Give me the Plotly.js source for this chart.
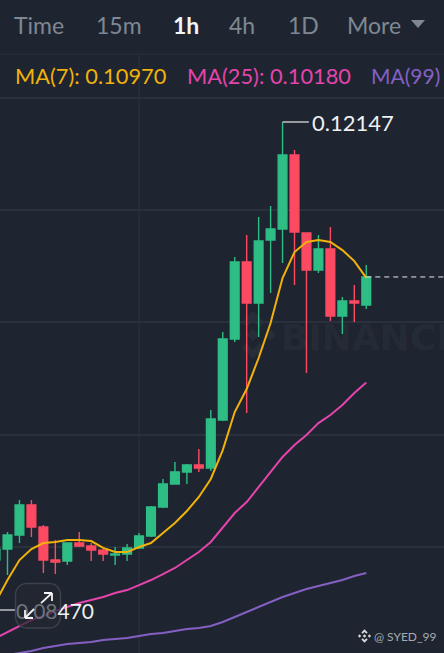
<!DOCTYPE html>
<html>
<head>
<meta charset="utf-8">
<script src="https://cdn.plot.ly/plotly-3.0.1.min.js"></script>
<style>html,body{margin:0;padding:0;background:#1e2530;overflow:hidden}#c{width:444px;height:653px}</style>
</head>
<body>
<div id="c"></div>
<script>
const candleIndex = [-1,0,1,2,3,4,5,6,7,8,9,10,11,12,13,14,15,16,17,18,19,20,21,22,23,24,25,26,27,28,29,30];
const open  = [.08840,.08923,.09029,.09255,.09089,.08840,.08832,.08968,.08946,.08915,.08878,.08885,.08931,.09021,.09240,.09414,.09504,.09557,.09535,.09897,.10509,.11090,.10780,.11256,.11339,.11898,.11309,.11029,.11188,.10682,.10795,.10765];
const high  = [.08938,.09051,.09293,.09293,.09104,.08991,.08975,.09051,.08968,.08923,.08938,.08961,.09044,.09248,.09452,.09580,.09565,.09678,.09972,.10561,.11128,.11294,.11430,.11513,.12147,.11935,.11309,.11294,.11354,.10826,.10916,.11067];
const low   = [.08817,.08727,.08968,.09014,.08742,.08734,.08802,.08938,.08832,.08832,.08802,.08832,.08923,.09014,.09233,.09414,.09414,.09504,.09512,.09889,.10486,.09950,.10524,.10856,.11082,.10916,.10252,.11007,.10644,.10546,.10637,.10735];
const close = [.08923,.09029,.09255,.09089,.08840,.08825,.08968,.08946,.08915,.08885,.08885,.08931,.09021,.09240,.09414,.09504,.09557,.09535,.09905,.10509,.11090,.10780,.11248,.11339,.11898,.11316,.11029,.11188,.10682,.10795,.10780,.10977];
const ma7  = [.08523,.08689,.08840,.08923,.08968,.08976,.08991,.08991,.08983,.08931,.08900,.08900,.08938,.08968,.09044,.09119,.09210,.09316,.09452,.09670,.09957,.10131,.10365,.10629,.10969,.11165,.11241,.11256,.11241,.11180,.11097,.10970];
const ma25 = [.08251,.08296,.08342,.08387,.08417,.08455,.08485,.08515,.08538,.08561,.08591,.08613,.08651,.08689,.08734,.08780,.08840,.08900,.08976,.09082,.09195,.09278,.09391,.09497,.09618,.09708,.09784,.09874,.09935,.10010,.10101,.10180];
const ma99 = [.08108,.08123,.08138,.08153,.08176,.08191,.08206,.08214,.08221,.08236,.08244,.08251,.08266,.08281,.08289,.08304,.08319,.08327,.08342,.08372,.08410,.08447,.08485,.08523,.08561,.08591,.08621,.08644,.08666,.08689,.08719,.08742];
const gridPrices = [.12328,.11482,.10637,.09784,.08938];
const intervals = ["Time","15m","1h","4h","1D","More"];
const legendTexts = ["MA(7): 0.10970","MA(25): 0.10180","MA(99)"];
const highLabel = "0.12147";
const lastPrice = .10977;

const W = 444, H = 653;
const px = v => v / W, py = v => 1 - v / H;
const GREY = "#7f8892", FONT = "Lato, 'Open Sans', sans-serif";
const green = "#2ebd85", red = "#fd4a63";
const line = (name, ys, color) => ({type:"scatter",mode:"lines",x:candleIndex,y:ys,name,
  line:{color,width:2},hoverinfo:"skip"});

const traces = [
  {type:"candlestick",x:candleIndex,open,high,low,close,whiskerwidth:0,
   increasing:{line:{color:green,width:1.4},fillcolor:green},
   decreasing:{line:{color:red,width:1.4},fillcolor:red},hoverinfo:"skip"},
  line("MA(99)",ma99,"#8560c4"),
  line("MA(25)",ma25,"#e544ac"),
  line("MA(7)",ma7,"#f0b20b")
];

const label = (text,x,y,size,color,extra) => Object.assign({text,x:px(x),y:py(y),xref:"paper",yref:"paper",
  xanchor:"left",yanchor:"middle",showarrow:false,borderpad:0,
  font:{family:FONT,size,color}},extra||{});
const stroke = (x,y,ax,ay) => ({text:" ",x:px(x),y:py(y),xref:"paper",yref:"paper",axref:"pixel",ayref:"pixel",ax,ay,
  font:{size:1},width:1,height:1,borderpad:0,
  showarrow:true,arrowhead:0,arrowwidth:1.8,arrowcolor:"#f2f3f5",standoff:0,startstandoff:0});

const annotations = [
  label(intervals[0],13,25,23,GREY),
  label(intervals[1],95,25,23,GREY),
  label("<b>"+intervals[2]+"</b>",172,25,23,"#f2f4f6"),
  label(intervals[3],228,25,23,GREY),
  label(intervals[4],287,25,23,GREY),
  label(intervals[5],346,25,23,GREY),
  label(legendTexts[0],14,75,21.8,"#f0b20b"),
  label(legendTexts[1],186,75,21.8,"#e544ac"),
  label(legendTexts[2],370,75,21,"#8560c4"),
  label(highLabel,311,122,22,"#eef0f2"),
  label('<span style="color:#6d727b">0.08</span>470',15,610,21,"#eef0f2"),
  label("<b>BINANCE</b>",280,337,36,"rgba(255,255,255,0.045)",{font:{family:"'DejaVu Sans'",size:36,color:"rgba(255,255,255,0.045)"}}),
  label("@ SYED_99",373,636,12,"#a6abb2"),
  stroke(52,593,-12,11),stroke(52,593,-9,0),stroke(52,593,0,9),
  stroke(25,618,10,-10),stroke(25,618,0,-9),stroke(25,618,9,0)
];

const pathShape = (path,fill,lineColor,lw,layer) => ({type:"path",xref:"paper",yref:"paper",path,layer:layer||"above",
  fillcolor:fill,line:{color:lineColor||"rgba(0,0,0,0)",width:lw||0}});
const P = pts => pts.map((p,i)=>(i?"L":"M")+px(p[0]).toFixed(5)+" "+py(p[1]).toFixed(5)).join(" ");
const diamond = (cx,cy,r) => P([[cx,cy-r],[cx+r,cy],[cx,cy+r],[cx-r,cy]])+" Z";
function binanceLogo(cx,cy,R){
  const chev = s => P([[0,-1],[.47,-.53],[.27,-.33],[0,-.6],[-.27,-.33],[-.47,-.53]].map(p=>[cx+p[0]*R,cy+s*p[1]*R]))+" Z";
  return [diamond(cx,cy,.26*R),diamond(cx-.72*R,cy,.24*R),diamond(cx+.72*R,cy,.24*R),chev(1),chev(-1)].join(" ");
}
function roundRect(x0,y0,x1,y1,r){
  const pts=[]; const n=6;
  const corner=(cx,cy,a0)=>{for(let k=0;k<=n;k++){const a=a0+k/n*Math.PI/2;pts.push([cx+r*Math.cos(a),cy+r*Math.sin(a)]);}};
  corner(x1-r,y0+r,-Math.PI/2);corner(x1-r,y1-r,0);corner(x0+r,y1-r,Math.PI/2);corner(x0+r,y0+r,Math.PI);
  return P(pts)+" Z";
}

const shapes = [
  {type:"line",xref:"paper",yref:"paper",x0:0,x1:1,y0:py(54),y1:py(54),layer:"below",line:{color:"#2b313c",width:1.2}},
  {type:"line",xref:"x",yref:"paper",x0:11,x1:11,y0:0,y1:py(54),layer:"below",line:{color:"#2b313c",width:1.2}},
  pathShape(binanceLogo(253,335,24),"#282e39",null,0,"below"),
  pathShape(P([[411,20],[425,20],[418,28]])+" Z","#7f8892"),
  {type:"line",xref:"x",yref:"y",x0:23,x1:25.2,y0:.12147,y1:.12147,line:{color:"#e8eaed",width:1.2}},
  {type:"line",xref:"paper",yref:"paper",x0:0,x1:px(15),y0:py(610),y1:py(610),line:{color:"#e8eaed",width:1.2}},
  {type:"line",xref:"x",yref:"y",x0:30,x1:37,y0:lastPrice,y1:lastPrice,line:{color:"#e8eaed",width:1,dash:"5px,4px"}},
  pathShape(roundRect(15.5,583.5,60.5,628,11),"rgba(34,39,49,0.72)","#3c414c",1.4),
  pathShape(binanceLogo(364.5,636,6.8),"#d4d7db")
];

const layout = {
  width:W,height:H,margin:{l:0,r:0,t:0,b:0},autosize:false,boxgap:0.27,boxgroupgap:0,
  paper_bgcolor:"#1e2530",plot_bgcolor:"#1e2530",showlegend:false,hovermode:false,
  xaxis:{range:[-0.627,36.5],showgrid:false,zeroline:false,showticklabels:false,ticks:"",rangeslider:{visible:false},fixedrange:true},
  yaxis:{range:[.08138,.13068],tickmode:"array",tickvals:gridPrices,gridcolor:"#2b313c",gridwidth:1.2,
    zeroline:false,showticklabels:false,ticks:"",fixedrange:true},
  annotations,shapes
};
Plotly.newPlot("c",traces,layout,{displayModeBar:false,staticPlot:true});
</script>
</body>
</html>
